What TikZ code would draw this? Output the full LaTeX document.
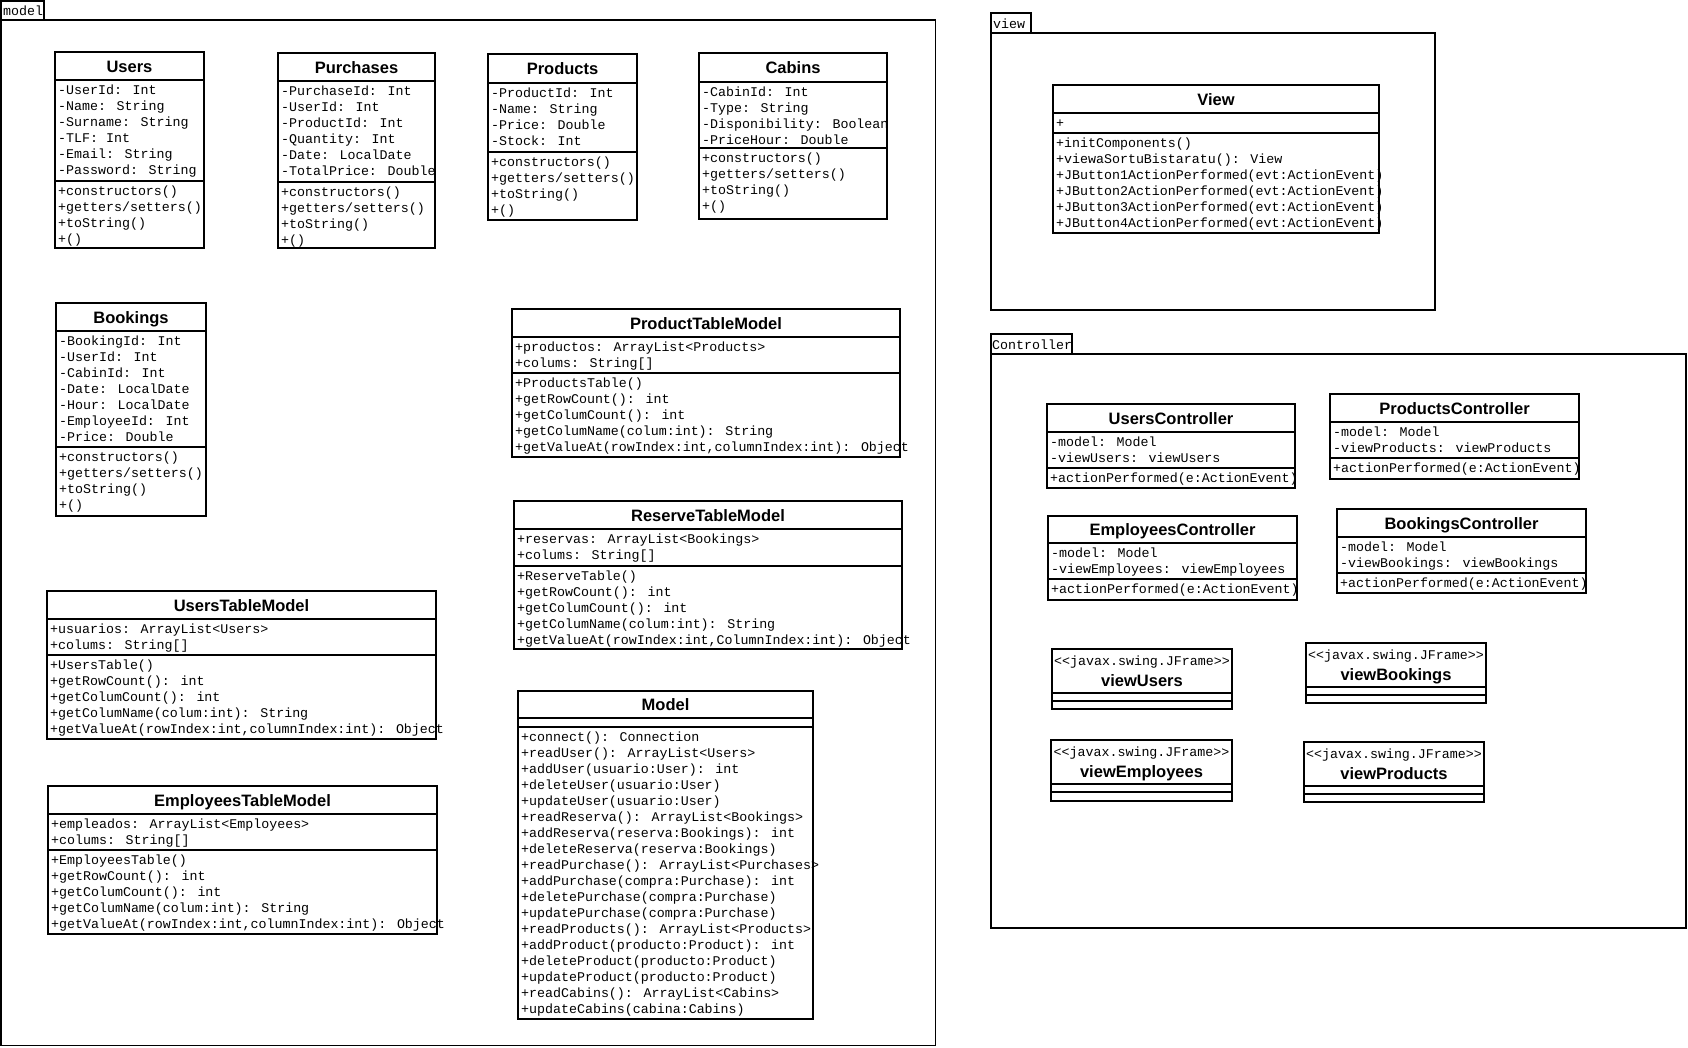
\documentclass[tikz,border=0pt]{standalone}
\usepackage{fontspec}
\setmainfont{Liberation Sans}
\newfontfamily\monof{Liberation Mono}
\usetikzlibrary{fit}
\tikzset{
  boxline/.style={line width=1.6pt},
  umlbox/.style={draw, line width=1.6pt, inner sep=0pt, outer sep=0pt},
  ctitle/.style={font=\bfseries\fontsize{16.5}{18}\selectfont, inner sep=0pt},
  rowtxt/.style={font=\monof\fontsize{13.3}{16}\selectfont, inner sep=0pt},
}
% #1 name, #2 x1, #3 y1, #4 x2, #5 y2, #6 header bottom, #7 divider, #8 title style, #9 title
\newcommand{\umlclass}[9]{%
  \node[umlbox, fit={(#2,#3)(#4,#5)}] (#1) {};
  \node[#8, anchor=base] (#1-title) at ({(#2+#4)/2},{(#3+#6)/2+6}) {#9};
  \draw[boxline] (#2,#6) -- (#4,#6);
  \draw[boxline] (#2,#7) -- (#4,#7);
}
% #1 prefix, #2 x1, #3 line above, #4 style, #5 list
\newcommand{\umlrows}[5]{%
  \foreach \t [count=\i] in {#5} {\node[#4, anchor=base west] (#1-\i) at ({#2+3},{#3+14.5+16*(\i-1)}) {\t};}%
}
% #1 name, #2 x1, #3 y1, #4 x2, #5 y2, #6 title
\newcommand{\jframe}[6]{%
  \node[umlbox, fit={(#2,#3)(#4,#5)}] (#1) {};
  \node[rowtxt, anchor=base] (#1-stereo) at ({(#2+#4)/2},{#3+16.5}) {<<javax.swing.JFrame>>};
  \node[ctitle, anchor=base] (#1-title) at ({(#2+#4)/2},{#3+37}) {#6};
  \draw[boxline] (#2,{#3+44}) -- (#4,{#3+44});
  \draw[boxline] (#2,{#3+52}) -- (#4,{#3+52});
}
\begin{document}
\begin{tikzpicture}[x=1pt,y=-1pt]
\useasboundingbox (0,0) rectangle (1688,1047);
\fill[white] (0,0) rectangle (1688,1047);

% ---------- packages ----------
\node[umlbox, fit={(1,1)(44,20)}] (modeltab) {};
\node[rowtxt, anchor=base west] (modeltabtxt) at (3,15.5) {model};
\node[umlbox, fit={(1,20)(935.5,1045.5)}] (modelframe) {};

\node[umlbox, fit={(991,13)(1031,33)}] (viewtab) {};
\node[rowtxt, anchor=base west] (viewtabtxt) at (993,28.5) {view};
\node[umlbox, fit={(991,33)(1435,310)}] (viewframe) {};

\node[umlbox, fit={(991,334)(1072,354)}] (ctrltab) {};
\node[rowtxt, anchor=base west] (ctrltabtxt) at (992,349.5) {Controller};
\node[umlbox, fit={(991,354)(1686,928)}] (ctrlframe) {};

% ---------- model ----------
\umlclass{users}{55}{52}{204}{248}{80}{181}{ctitle}{Users}
\umlrows{users-a}{55}{80}{rowtxt}{-UserId: Int,-Name: String,-Surname: String,-TLF: Int,-Email: String,-Password: String}
\umlrows{users-m}{55}{181}{rowtxt}{+constructors(),{+getters/setters()},+toString(),+()}

\umlclass{purch}{278}{53}{435}{248}{81}{182}{ctitle}{Purchases}
\umlrows{purch-a}{278}{81}{rowtxt}{-PurchaseId: Int,-UserId: Int,-ProductId: Int,-Quantity: Int,-Date: LocalDate,-TotalPrice: Double}
\umlrows{purch-m}{278}{182}{rowtxt}{+constructors(),{+getters/setters()},+toString(),+()}

\umlclass{prod}{488}{54}{637}{220}{83}{152}{ctitle}{Products}
\umlrows{prod-a}{488}{83}{rowtxt}{-ProductId: Int,-Name: String,-Price: Double,-Stock: Int}
\umlrows{prod-m}{488}{152}{rowtxt}{+constructors(),{+getters/setters()},+toString(),+()}

\umlclass{cabins}{699}{53}{887}{219}{82}{148}{ctitle}{Cabins}
\umlrows{cabins-a}{699}{82}{rowtxt}{-CabinId: Int,-Type: String,-Disponibility: Boolean,-PriceHour: Double}
\umlrows{cabins-m}{699}{148}{rowtxt}{+constructors(),{+getters/setters()},+toString(),+()}

\umlclass{book}{56}{303}{206}{516}{331}{447}{ctitle}{Bookings}
\umlrows{book-a}{56}{331}{rowtxt}{-BookingId: Int,-UserId: Int,-CabinId: Int,-Date: LocalDate,-Hour: LocalDate,-EmployeeId: Int,-Price: Double}
\umlrows{book-m}{56}{447}{rowtxt}{+constructors(),{+getters/setters()},+toString(),+()}

\umlclass{ptm}{512}{309}{900}{457}{337}{373}{ctitle}{ProductTableModel}
\umlrows{ptm-a}{512}{337}{rowtxt}{+productos: ArrayList<Products>,+colums: String[]}
\umlrows{ptm-m}{512}{373}{rowtxt}{+ProductsTable(),+getRowCount(): int,+getColumCount(): int,+getColumName(colum:int): String,{+getValueAt(rowIndex:int,columnIndex:int): Object}}

\umlclass{rtm}{514}{501}{902}{649}{529}{566}{ctitle}{ReserveTableModel}
\umlrows{rtm-a}{514}{529}{rowtxt}{+reservas: ArrayList<Bookings>,+colums: String[]}
\umlrows{rtm-m}{514}{566}{rowtxt}{+ReserveTable(),+getRowCount(): int,+getColumCount(): int,+getColumName(colum:int): String,{+getValueAt(rowIndex:int,ColumnIndex:int): Object}}

\umlclass{utm}{47}{591}{436}{739}{619}{655}{ctitle}{UsersTableModel}
\umlrows{utm-a}{47}{619}{rowtxt}{+usuarios: ArrayList<Users>,+colums: String[]}
\umlrows{utm-m}{47}{655}{rowtxt}{+UsersTable(),+getRowCount(): int,+getColumCount(): int,+getColumName(colum:int): String,{+getValueAt(rowIndex:int,columnIndex:int): Object}}

\umlclass{etm}{48}{786}{437}{934}{814}{850}{ctitle}{EmployeesTableModel}
\umlrows{etm-a}{48}{814}{rowtxt}{+empleados: ArrayList<Employees>,+colums: String[]}
\umlrows{etm-m}{48}{850}{rowtxt}{+EmployeesTable(),+getRowCount(): int,+getColumCount(): int,+getColumName(colum:int): String,{+getValueAt(rowIndex:int,columnIndex:int): Object}}

\umlclass{mdl}{518}{691}{813}{1019}{718}{727}{ctitle}{Model}
\umlrows{mdl-m}{518}{727}{rowtxt}{+connect(): Connection,+readUser(): ArrayList<Users>,+addUser(usuario:User): int,+deleteUser(usuario:User),+updateUser(usuario:User),+readReserva(): ArrayList<Bookings>,+addReserva(reserva:Bookings): int,+deleteReserva(reserva:Bookings),+readPurchase(): ArrayList<Purchases>,+addPurchase(compra:Purchase): int,+deletePurchase(compra:Purchase),+updatePurchase(compra:Purchase),+readProducts(): ArrayList<Products>,+addProduct(producto:Product): int,+deleteProduct(producto:Product),+updateProduct(producto:Product),+readCabins(): ArrayList<Cabins>,+updateCabins(cabina:Cabins)}

% ---------- view ----------
\umlclass{viewc}{1053}{85}{1379}{233}{113}{133}{ctitle}{View}
\umlrows{viewc-a}{1053}{113}{rowtxt}{+}
\umlrows{viewc-m}{1053}{133}{rowtxt}{+initComponents(),+viewaSortuBistaratu(): View,+JButton1ActionPerformed(evt:ActionEvent),+JButton2ActionPerformed(evt:ActionEvent),+JButton3ActionPerformed(evt:ActionEvent),+JButton4ActionPerformed(evt:ActionEvent)}

% ---------- controller ----------
\umlclass{uctl}{1047}{404}{1295}{488}{432}{468}{ctitle}{UsersController}
\umlrows{uctl-a}{1047}{432}{rowtxt}{-model: Model,-viewUsers: viewUsers}
\umlrows{uctl-m}{1047}{468}{rowtxt}{+actionPerformed(e:ActionEvent)}

\umlclass{pctl}{1330}{394}{1579}{479}{422}{458}{ctitle}{ProductsController}
\umlrows{pctl-a}{1330}{422}{rowtxt}{-model: Model,-viewProducts: viewProducts}
\umlrows{pctl-m}{1330}{458}{rowtxt}{+actionPerformed(e:ActionEvent)}

\umlclass{ectl}{1048}{516}{1297}{600}{543}{579}{ctitle}{EmployeesController}
\umlrows{ectl-a}{1048}{543}{rowtxt}{-model: Model,-viewEmployees: viewEmployees}
\umlrows{ectl-m}{1048}{579}{rowtxt}{+actionPerformed(e:ActionEvent)}

\umlclass{bctl}{1337}{509}{1586}{593}{537}{573}{ctitle}{BookingsController}
\umlrows{bctl-a}{1337}{537}{rowtxt}{-model: Model,-viewBookings: viewBookings}
\umlrows{bctl-m}{1337}{573}{rowtxt}{+actionPerformed(e:ActionEvent)}

\jframe{vusers}{1052}{649}{1232}{709}{viewUsers}
\jframe{vbook}{1306}{643}{1486}{703}{viewBookings}
\jframe{vemp}{1051}{740}{1232}{801}{viewEmployees}
\jframe{vprod}{1304}{742}{1484}{802}{viewProducts}
\end{tikzpicture}
\end{document}
